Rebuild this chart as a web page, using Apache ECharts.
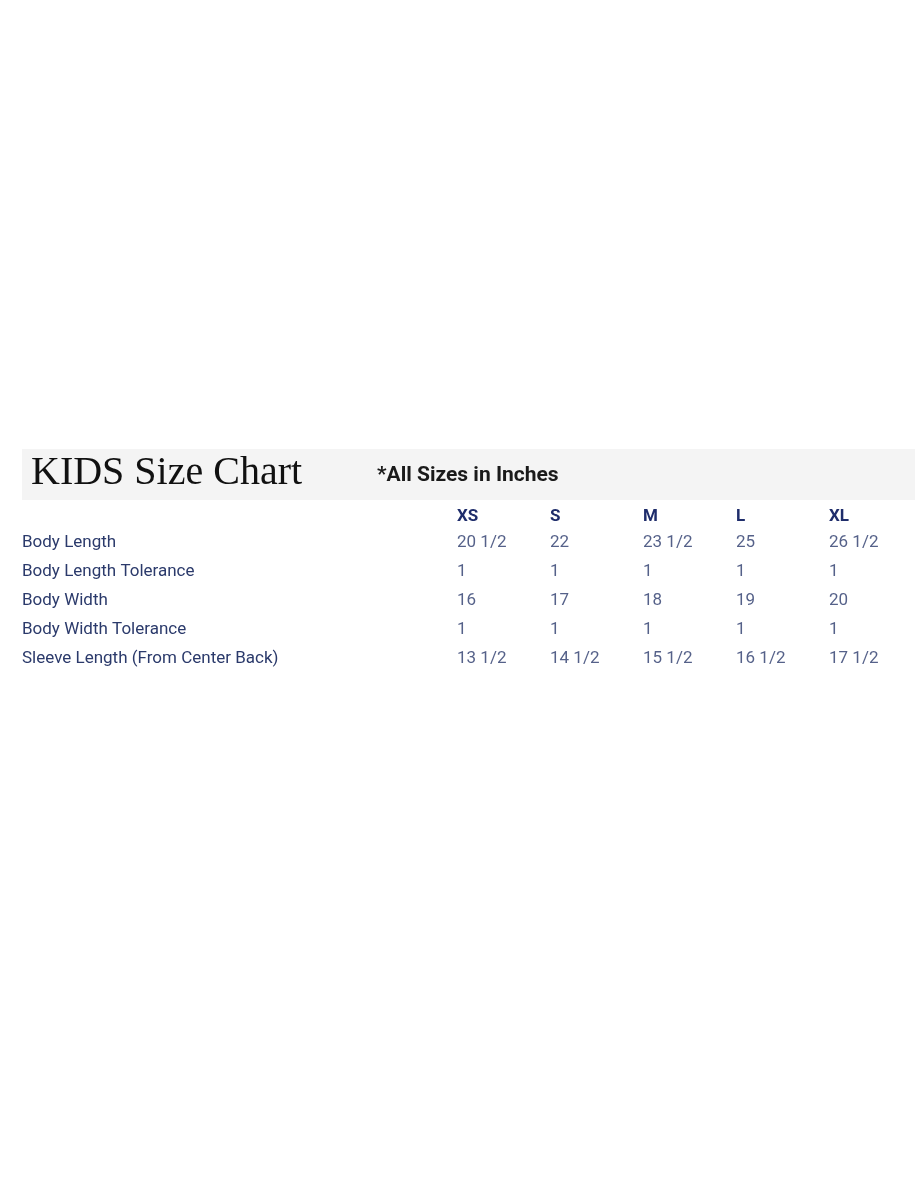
<!DOCTYPE html>
<html lang="en">
<head>
  <meta charset="UTF-8">
  <title>KIDS Size Chart</title>
  <style>html,body{margin:0;padding:0;background:#fff}#chart{width:923px;height:1194px}</style>
</head>
<body>
  <div id="chart"></div>
  <script src="https://cdn.jsdelivr.net/npm/echarts@6/dist/echarts.min.js"></script>
  <script>
    // 表格数据
    var sizes = ['XS', 'S', 'M', 'L', 'XL'];
    var measures = ['Body Length', 'Body Length Tolerance', 'Body Width', 'Body Width Tolerance', 'Sleeve Length (From Center Back)'];
    var bodyLength = ['20 1/2', '22', '23 1/2', '25', '26 1/2'];
    var bodyLengthTol = ['1', '1', '1', '1', '1'];
    var bodyWidth = ['16', '17', '18', '19', '20'];
    var bodyWidthTol = ['1', '1', '1', '1', '1'];
    var sleeveLength = ['13 1/2', '14 1/2', '15 1/2', '16 1/2', '17 1/2'];

    var rows = [bodyLength, bodyLengthTol, bodyWidth, bodyWidthTol, sleeveLength];
    var cells = [];
    rows.forEach(function (row, r) {
      row.forEach(function (v, c) { cells.push({ value: [sizes[c], measures[r]], text: v }); });
    });

    var navy = '#2b3a6b';
    var chart = echarts.init(document.getElementById('chart'));
    chart.setOption({
      backgroundColor: '#fff',
      graphic: [{ type: 'rect', shape: { x: 22, y: 449, width: 893, height: 51 }, style: { fill: '#f4f4f4' }, z: -1 }],
      title: [
        { text: 'KIDS Size Chart', left: 26, top: 448,
          textStyle: { fontFamily: 'Liberation Serif', fontSize: 40, fontWeight: 'normal', color: '#111' } },
        { text: '*All Sizes in Inches', left: 372, top: 460,
          textStyle: { fontFamily: 'Roboto', fontSize: 21, fontWeight: 'bold', color: '#1a1a1a' } }
      ],
      grid: { left: 457, right: 94, top: 543, bottom: 535 },
      xAxis: {
        type: 'category', data: sizes, position: 'top', boundaryGap: false,
        axisLine: { show: false }, axisTick: { show: false }, splitLine: { show: false },
        axisLabel: { margin: 18, align: 'left', fontFamily: 'Roboto', fontSize: 17, fontWeight: 'bold', color: '#1f2d6b' }
      },
      yAxis: {
        type: 'category', data: measures, inverse: true, boundaryGap: false,
        axisLine: { show: false }, axisTick: { show: false }, splitLine: { show: false },
        axisLabel: { margin: 435, align: 'left', fontFamily: 'Roboto', fontSize: 17, color: navy }
      },
      series: [{
        type: 'scatter', symbolSize: 0, data: cells,
        label: { show: true, position: [0, 0], align: 'left', verticalAlign: 'middle',
          fontFamily: 'Roboto', fontSize: 17, color: navy,
          formatter: function (p) { return p.data.text; } }
      }]
    });
  </script>
</body>
</html>
